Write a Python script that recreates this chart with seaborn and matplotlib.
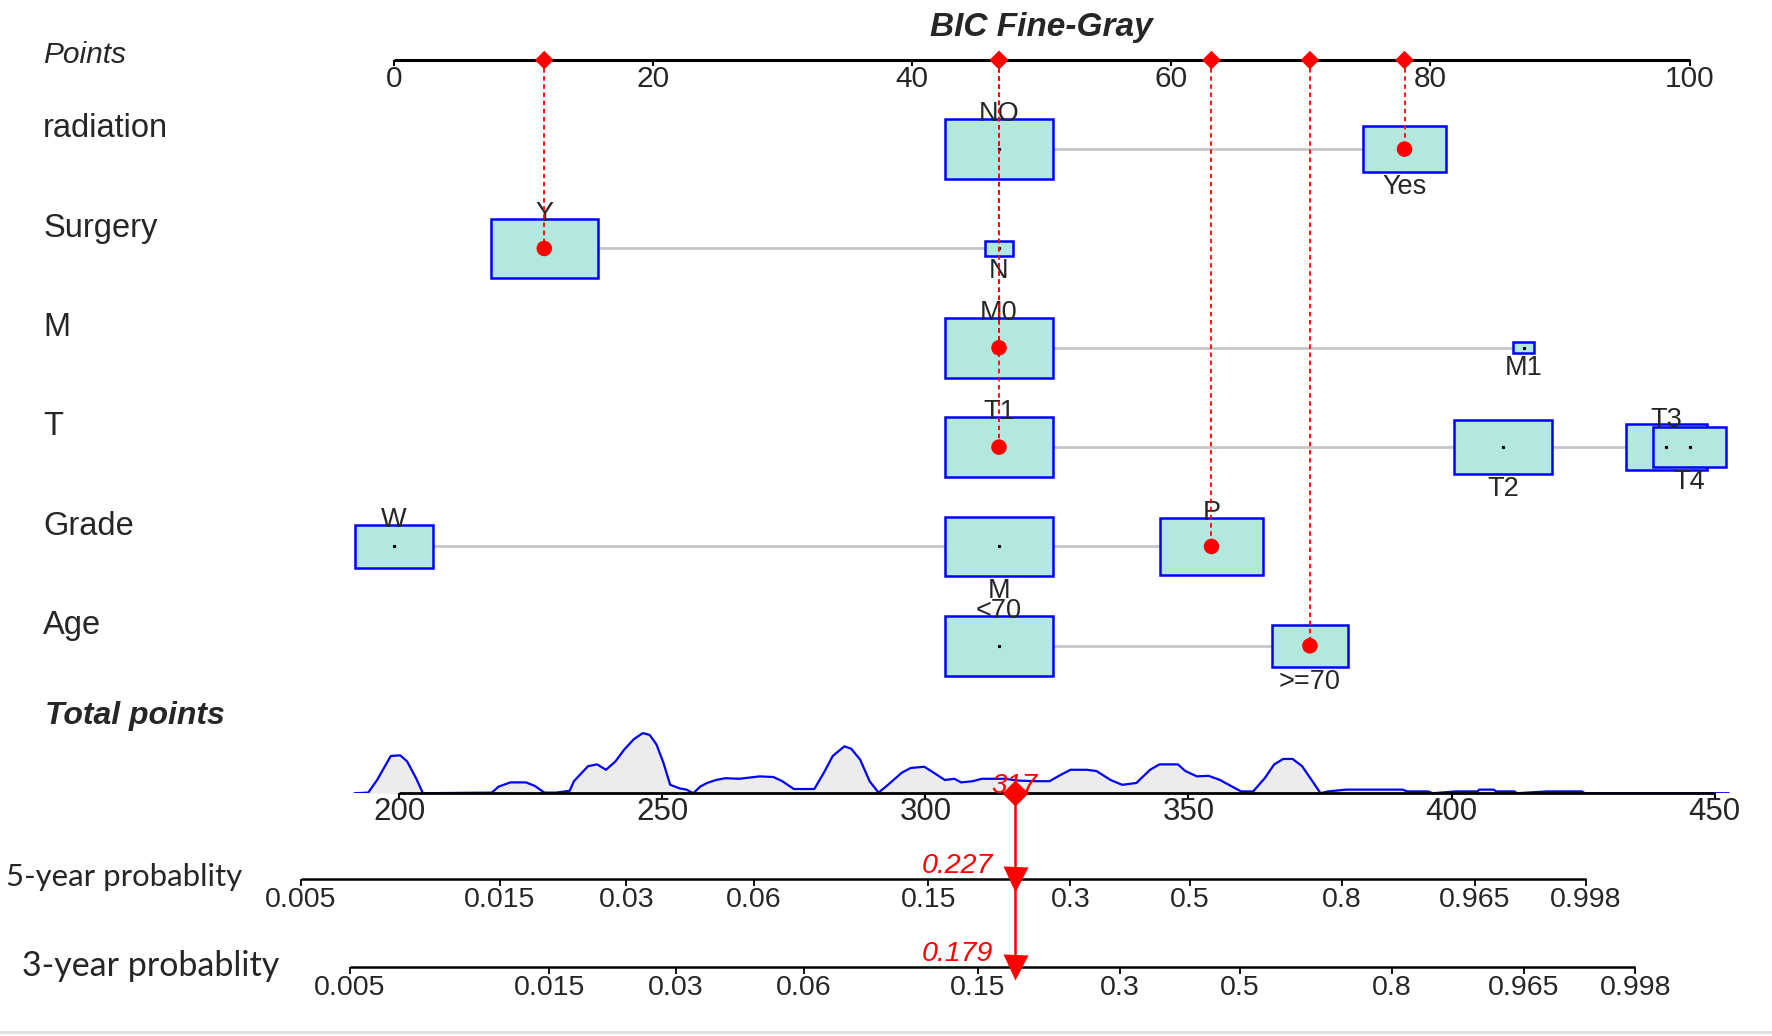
import numpy as np
import matplotlib
matplotlib.use("Agg")
import matplotlib.pyplot as plt
from matplotlib.patches import Rectangle
import seaborn as sns

# ---------------- data ----------------
variables = ["radiation", "Surgery", "M", "T", "Grade", "Age"]

radiation_levels = ["NO", "Yes"]
radiation_points = [46.7, 78.0]
radiation_freq = [0.63, 0.37]

surgery_levels = ["Y", "N"]
surgery_points = [11.6, 46.7]
surgery_freq = [0.94, 0.06]

m_levels = ["M0", "M1"]
m_points = [46.7, 87.2]
m_freq = [0.965, 0.035]

t_levels = ["T1", "T2", "T3", "T4"]
t_points = [46.7, 85.6, 98.2, 100.0]
t_freq = [0.35, 0.29, 0.20, 0.16]

grade_levels = ["W", "M", "P"]
grade_points = [0.0, 46.7, 63.1]
grade_freq = [0.22, 0.41, 0.37]

age_levels = ["<70", ">=70"]
age_points = [46.7, 70.7]
age_freq = [0.67, 0.33]

# the patient shown in red
selected = ["Yes", "Y", "M0", "T1", "P", ">=70"]

points_ticks = [0, 20, 40, 60, 80, 100]
total_ticks = [200, 250, 300, 350, 400, 450]
prob_ticks = [0.005, 0.015, 0.03, 0.06, 0.15, 0.3, 0.5, 0.8, 0.965, 0.998]
prob_labels = ["0.005", "0.015", "0.03", "0.06", "0.15", "0.3", "0.5", "0.8", "0.965", "0.998"]
prob_5yr = 0.227
prob_3yr = 0.179

# distribution of total points (relative height of the density strip)
density_total = [191.5, 194.1, 195.8, 198.4, 200.2, 201.5, 203.2, 204.5, 217.6, 218.9,
                 221.1, 224.1, 225.8, 227.6, 229.8, 232.4, 233.2, 235.9, 237.6, 239.3,
                 241.1, 242.8, 244.6, 246.3, 247.6, 248.9, 250.2, 251.5, 253.3, 254.6,
                 255.9, 257.2, 258.5, 260.2, 262.0, 264.6, 268.5, 271.1, 272.8, 275.0,
                 278.9, 280.7, 282.4, 284.6, 285.9, 287.6, 289.4, 291.1, 292.9, 295.5,
                 297.2, 299.8, 301.6, 303.7, 305.5, 306.8, 309.0, 310.7, 312.9, 315.1,
                 317.7, 321.1, 323.6, 325.8, 327.6, 330.7, 332.5, 335.2, 337.4, 340.1,
                 342.7, 344.5, 348.0, 349.4, 351.6, 353.8, 356.0, 358.3, 360.0, 362.3,
                 364.5, 366.3, 368.0, 369.8, 371.6, 373.4, 375.1, 376.5, 380.0, 390.7,
                 391.6, 395.6, 396.4, 400.9, 404.9, 405.3, 408.0, 408.5, 412.0, 412.4,
                 418.2, 424.8, 425.3, 449.7, 452.7]
density_height = [0, 0.01, 0.22, 0.62, 0.63, 0.53, 0.25, 0, 0.01, 0.11,
                  0.18, 0.18, 0.12, 0.01, 0.01, 0.04, 0.20, 0.45, 0.48, 0.39,
                  0.53, 0.73, 0.90, 1.00, 0.97, 0.81, 0.51, 0.14, 0.08, 0.06,
                  0, 0.11, 0.17, 0.22, 0.25, 0.24, 0.28, 0.27, 0.20, 0.07,
                  0.07, 0.34, 0.62, 0.78, 0.74, 0.56, 0.20, 0.01, 0.14, 0.34,
                  0.42, 0.44, 0.34, 0.22, 0.24, 0.18, 0.20, 0.24, 0.24, 0.24,
                  0.21, 0.20, 0.20, 0.31, 0.39, 0.39, 0.37, 0.22, 0.14, 0.17,
                  0.39, 0.48, 0.48, 0.37, 0.28, 0.29, 0.22, 0.11, 0.03, 0.03,
                  0.25, 0.48, 0.57, 0.57, 0.45, 0.22, 0, 0.03, 0.06, 0.06,
                  0.03, 0.03, 0, 0.03, 0.03, 0.06, 0.06, 0.03, 0.03, 0,
                  0.03, 0.03, 0, 0, 0]

# Fine-Gray link: total points = offset + slope * log(-log(1 - p))
LINK_SLOPE = 34.3
LINK_OFFSET_5YR = 362.9
LINK_OFFSET_3YR = 372.3


def prob_to_total(p, offset):
    p = np.asarray(p, dtype=float)
    return offset + LINK_SLOPE * np.log(-np.log(1 - p))


# ---------------- layout (grid of 1562 x 913.6 units) ----------------
H, WD = 913.6, 1562.0
X0, PPP = 347.3, 11.42          # position of 0 points, units per point
T200, PPT = 351.9, 4.638        # position of 200 total points, units per total point
Y_POINTS = 53.0
ROW_Y = [131.5 + 87.6 * i for i in range(6)]
Y_TOTAL = 699.5
Y_5YR = 775.5
Y_3YR = 853.0
BOX_MAX_W = 8.3                 # width (in points) of the most frequent level
BOX_RATIO = 0.557

sns.set_theme(style="white")
plt.rcParams["font.family"] = ["Liberation Sans", "DejaVu Sans"]

fig = plt.figure(figsize=(17.72, 10.36), dpi=100)
fig.patch.set_facecolor("white")

tot_lim = (200 - T200 / PPT, 200 + (WD - T200) / PPT)

ax = fig.add_axes([0, 0, 1, 1])
ax_den = fig.add_axes([0, 1 - Y_TOTAL / H, 1, 58 / H])
ax_tot = fig.add_axes([0, 0, 1, 1])
for a in (ax, ax_den, ax_tot):
    a.set_axis_off()
    a.patch.set_alpha(0)

# ---------------- title and Points scale ----------------
ax.text(50, 31.7, "BIC Fine-Gray", ha="center", va="baseline", fontsize=24,
        fontweight="bold", fontstyle="italic")
ax.text(0.0243, 55.3, "Points", transform=ax.get_yaxis_transform(), fontsize=21.5,
        fontstyle="italic", va="baseline")
ax.plot([points_ticks[0], points_ticks[-1]], [Y_POINTS, Y_POINTS], color="black", lw=2.2,
        solid_capstyle="butt", zorder=3)
ax.vlines(points_ticks, Y_POINTS, Y_POINTS + 5, color="black", lw=1.5, zorder=3)
for t in points_ticks:
    ax.text(t, Y_POINTS + 4, str(t), ha="center", va="top", fontsize=21.5)

# ---------------- variable rows ----------------
all_levels = [radiation_levels, surgery_levels, m_levels, t_levels, grade_levels, age_levels]
all_points = [radiation_points, surgery_points, m_points, t_points, grade_points, age_points]
all_freq = [radiation_freq, surgery_freq, m_freq, t_freq, grade_freq, age_freq]

sel_points = []
for i, var in enumerate(variables):
    y = ROW_Y[i]
    levels, pts, freq = all_levels[i], all_points[i], all_freq[i]
    ax.text(0.0243, y - 10.5, var, transform=ax.get_yaxis_transform(), fontsize=23.5,
            va="baseline")
    ax.plot([min(pts), max(pts)], [y, y], color="#c6c6c6", lw=2, zorder=1)
    fmax = max(freq)
    for j, (lev, p, f) in enumerate(zip(levels, pts, freq)):
        w = BOX_MAX_W * np.sqrt(f / fmax)
        h = w * PPP * BOX_RATIO
        ax.add_patch(Rectangle((p - w / 2, y - h / 2), w, h, facecolor="#b3e8df",
                               edgecolor="#0000ff", lw=1.8, zorder=2))
        ax.plot(p, y, marker="s", ms=1.3, color="black", zorder=2.5)
        if j % 2 == 0:
            ax.text(p, y - h / 2 + 2, lev, ha="center", va="baseline", fontsize=19.5, zorder=2.6)
        else:
            ax.text(p, y + h / 2 + 1.5, lev, ha="center", va="top", fontsize=19.5, zorder=2.6)
    sel_points.append(pts[levels.index(selected[i])])

ax.vlines(sel_points, Y_POINTS, ROW_Y, colors="red", lw=1.3, linestyles=(0, (2.5, 2)), zorder=3)
sns.scatterplot(x=sel_points, y=ROW_Y, ax=ax, color="red", s=125, edgecolor="none",
                zorder=5, legend=False)
sns.scatterplot(x=sel_points, y=[Y_POINTS] * len(sel_points), ax=ax, color="red", marker="D",
                s=9.5 ** 2, edgecolor="none", zorder=5, legend=False)

ax.text(0.0256, 638.5, "Total points", transform=ax.get_yaxis_transform(), fontsize=23,
        fontweight="bold", fontstyle="italic", va="baseline")
ax.axhline(910, color="#dedede", lw=2)

# ---------------- total points density ----------------
ax_den.fill_between(density_total, density_height, 0, color="#ececec", lw=0)
sns.lineplot(x=density_total, y=density_height, ax=ax_den, color="#0000ff", lw=1.6,
             errorbar=None)

# ---------------- total points & probability scales ----------------
ax_tot.plot([total_ticks[0], total_ticks[-1]], [Y_TOTAL, Y_TOTAL], color="black", lw=2,
            solid_capstyle="butt")
ax_tot.vlines(total_ticks, Y_TOTAL, Y_TOTAL + 5, color="black", lw=1.5)
for t in total_ticks:
    ax_tot.text(t, Y_TOTAL + 3.5, str(t), ha="center", va="top", fontsize=22.5)

for y_ax, offset in [(Y_5YR, LINK_OFFSET_5YR), (Y_3YR, LINK_OFFSET_3YR)]:
    xs = prob_to_total(prob_ticks, offset)
    ax_tot.plot([xs[0], xs[-1]], [y_ax, y_ax], color="black", lw=1.8, solid_capstyle="butt")
    ax_tot.vlines(xs, y_ax, y_ax + 6, color="black", lw=1.3)
    for x, lab in zip(xs, prob_labels):
        ax_tot.text(x, y_ax + 7, lab, ha="center", va="top", fontsize=20.5)

# labels of the probability scales, fitted to their measured widths
lab5 = ax.text(0.0034, 781.3, "5-year probablity", transform=ax.get_yaxis_transform(),
               fontsize=22, va="baseline", family=["Lato", "DejaVu Sans"])
lab3 = ax.text(0.0124, 860.4, "3-year probablity", transform=ax.get_yaxis_transform(),
               fontsize=24, va="baseline", family=["Lato", "DejaVu Sans"])
renderer = fig.canvas.get_renderer()
for txt, target in [(lab5, 235.0), (lab3, 258.0)]:
    wpx = txt.get_window_extent(renderer).width
    txt.set_fontsize(txt.get_fontsize() * target / wpx)

# ---------------- the red prediction ----------------
total = round(sum(sel_points))
ax_tot.text(total, Y_TOTAL, str(total), color="red", ha="center", va="baseline",
            fontsize=20, fontstyle="italic", zorder=4)
ax_tot.vlines(total, Y_TOTAL, Y_3YR, colors="red", lw=1.8, zorder=5)
ax_tot.plot(total, Y_TOTAL, marker="D", ms=13, color="red", mec="none", zorder=6)
ax_tot.plot([total, total], [Y_5YR, Y_3YR], ls="none", marker="v", ms=18, color="red",
            mec="none", zorder=6)
ax_tot.text(total - 4.2, Y_5YR - 5.5, f"{prob_5yr:.3f}", color="red", ha="right",
            va="baseline", fontsize=20.5, fontstyle="italic")
ax_tot.text(total - 4.2, Y_3YR - 5.5, f"{prob_3yr:.3f}", color="red", ha="right",
            va="baseline", fontsize=20.5, fontstyle="italic")

# keep the scales fixed after seaborn has drawn on them
ax.set_xlim(-X0 / PPP, (WD - X0) / PPP)
ax.set_ylim(H, 0)
ax_den.set_xlim(tot_lim)
ax_den.set_ylim(0, 58 / 53)
ax_tot.set_xlim(tot_lim)
ax_tot.set_ylim(H, 0)

fig.savefig("out.png", dpi=100, facecolor="white")
